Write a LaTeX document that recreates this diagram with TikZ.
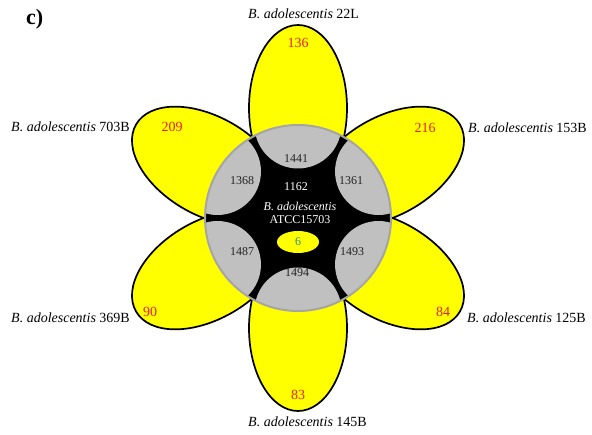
\documentclass[tikz,border=0pt]{standalone}
\usepackage{fontspec}
\setmainfont{Liberation Serif}
\definecolor{petalyellow}{RGB}{255,255,0}
\definecolor{lobegray}{RGB}{192,192,192}
\definecolor{rimgray}{RGB}{165,165,165}
\definecolor{numred}{RGB}{225,35,30}
\definecolor{coreteal}{RGB}{40,140,160}
\definecolor{lobetext}{RGB}{35,35,35}
\begin{document}
\begin{tikzpicture}[x=1pt,y=1pt,
  petal/.style={fill=petalyellow, draw=black, line width=1.7pt},
  lobe/.style={fill=lobegray},
  rim/.style={draw=rimgray, line width=2pt},
  namelabel/.style={inner sep=0pt, font=\fontsize{14}{16}\selectfont},
  petalnum/.style={inner sep=0pt, text=numred, font=\fontsize{14}{16}\selectfont},
  lobenum/.style={inner sep=0pt, text=lobetext, font=\fontsize{12}{14}\selectfont},
  corelabel/.style={inner sep=0pt, text=white, font=\fontsize{12}{14}\selectfont}]
\useasboundingbox (0,0) rectangle (592,434);
\coordinate (c) at (298,216);
% petals: angle / distance of ellipse centre
\foreach \a/\d in {90/110,30/104,-30/104,-90/110,-150/104,150/104} {
  \begin{scope}[shift={(c)}, rotate=\a]
    \draw[petal] (\d,0) ellipse [x radius=83, y radius=49];
  \end{scope}
}
% central circle
\begin{scope}
  \clip (c) circle (93);
  \fill[black] (c) circle (93);
  \foreach \a in {90,30,-30,-90,-150,150} {
    \fill[lobe] (c) ++(\a:93) circle (43.5);
  }
\end{scope}
\draw[rim] (c) circle (93);
% core ellipse
\fill[petalyellow] (298,192) ellipse [x radius=21, y radius=11];
\node[inner sep=0pt, text=coreteal, font=\fontsize{12}{14}\selectfont] (core) at (298,192) {6};
% core labels
\node[corelabel] (n1162) at (296,247) {1162};
\node[corelabel] (coreA) at (300,228) {\textit{B. adolescentis}};
\node[corelabel] (coreB) at (300,214) {ATCC15703};
% lobe numbers
\node[lobenum] (l1441) at (296,275) {1441};
\node[lobenum] (l1368) at (242,253) {1368};
\node[lobenum] (l1361) at (351,253) {1361};
\node[lobenum] (l1487) at (242,182) {1487};
\node[lobenum] (l1493) at (352,182) {1493};
\node[lobenum] (l1494) at (297,161) {1494};
% petal numbers
\node[petalnum] (p136) at (298,391) {136};
\node[petalnum] (p216) at (425,306) {216};
\node[petalnum] (p209) at (172,307) {209};
\node[petalnum] (p90) at (150,122) {90};
\node[petalnum] (p84) at (443,122) {84};
\node[petalnum] (p83) at (298,39) {83};
% names
\node[namelabel, anchor=west] (s22L) at (248,420) {\textit{B. adolescentis} 22L};
\node[namelabel, anchor=east] (s703B) at (130,307) {\textit{B. adolescentis} 703B};
\node[namelabel, anchor=west] (s153B) at (468,306) {\textit{B. adolescentis} 153B};
\node[namelabel, anchor=east] (s369B) at (130,116) {\textit{B. adolescentis} 369B};
\node[namelabel, anchor=west] (s125B) at (467,116) {\textit{B. adolescentis} 125B};
\node[namelabel, anchor=west] (s145B) at (248,12) {\textit{B. adolescentis} 145B};
% panel letter
\node[inner sep=0pt, anchor=west, font=\fontsize{22}{26}\selectfont\bfseries] (panel) at (26,415) {c)};
\end{tikzpicture}
\end{document}
